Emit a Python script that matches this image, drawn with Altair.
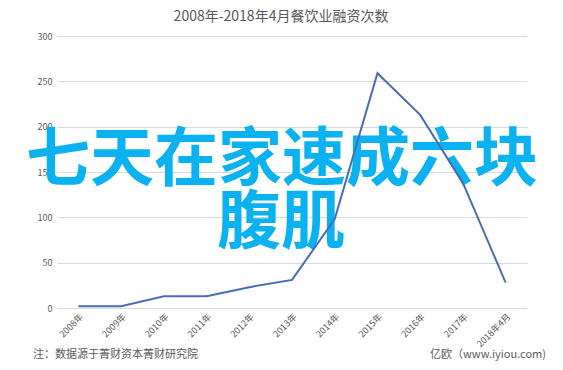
import altair as alt
import pandas as pd

years = ["2008年", "2009年", "2010年", "2011年", "2012年", "2013年",
         "2014年", "2015年", "2016年", "2017年", "2018年4月"]
counts = [2, 2, 13, 13, 23, 31, 98, 259, 213, 138, 28]
y_ticks = [0, 50, 100, 150, 200, 250, 300]

title_text = "2008年-2018年4月餐饮业融资次数"
overlay_line1 = "七天在家速成六块"
overlay_line2 = "腹肌"
note_text = "注：数据源于菁财资本菁财研究院"
source_text = "亿欧（www.iyiou.com)"

df = pd.DataFrame({"year": years, "count": counts})

FONT = "Noto Sans CJK SC"
GRAY = "#595959"

base = alt.Chart(df)

line = base.mark_line(color="#4a6cb8", strokeWidth=2).encode(
    x=alt.X("year:N", sort=years, title=None,
            axis=alt.Axis(labelAngle=-45, ticks=False, domain=False, grid=False,
                          labelFontSize=9, labelColor=GRAY, labelFont=FONT,
                          labelPadding=4)),
    y=alt.Y("count:Q", title=None,
            scale=alt.Scale(domain=[0, 300], nice=False),
            axis=alt.Axis(values=y_ticks, ticks=False, domain=False, grid=True,
                          gridColor="#d9d9d9", gridWidth=1,
                          labelFontSize=9, labelColor=GRAY, labelFont=FONT,
                          labelPadding=5)),
)

def txt(text, x, y, size, color, align="center", weight="normal", baseline="middle"):
    return alt.Chart(pd.DataFrame({"t": [text]})).mark_text(
        font=FONT, fontSize=size, color=color, align=align,
        fontWeight=weight, baseline=baseline,
    ).encode(x=alt.value(x), y=alt.value(y), text="t:N")

title = txt(title_text, 224, -19, 14, GRAY)
o1 = txt(overlay_line1, 225, 125, 64, "#0ab2f1", weight="bold")
o2 = txt(overlay_line2, 224, 188, 64, "#0ab2f1", weight="bold")
note = txt(note_text, -24, 319, 11, GRAY, align="left")
src = txt(source_text, 489, 319, 11, GRAY, align="right")

chart = alt.layer(o1, o2, line, title, note, src).properties(
    width=470, height=272,
    padding={"left": 49, "top": 28, "right": 28, "bottom": 54},
    autosize=alt.AutoSizeParams(type="none"),
    background="white",
).configure_view(stroke=None)

chart.save("out.html", embed_options={"renderer": "svg", "actions": False})
